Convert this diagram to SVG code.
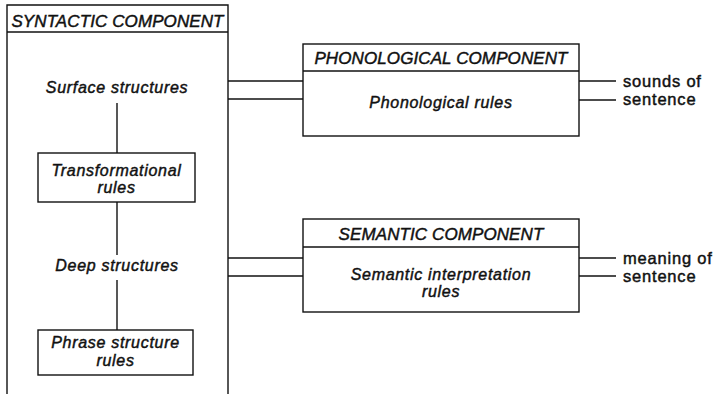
<svg xmlns="http://www.w3.org/2000/svg" width="718" height="394" viewBox="0 0 718 394">
  <style>
    .box { fill: none; stroke: #111; stroke-width: 1.4; }
    .wire { fill: none; stroke: #111; stroke-width: 1.4; }
    text { font-family: "Liberation Sans", Arial, sans-serif; fill: #111; stroke: #111; stroke-width: 0.45; }
    .head { font-style: italic; font-size: 17px; text-anchor: middle; letter-spacing: 0.1px; }
    .lbl { font-style: italic; font-size: 16px; text-anchor: middle; letter-spacing: 0.7px; }
    .out { font-size: 16.5px; letter-spacing: 0.8px; }
  </style>
  <rect width="718" height="394" fill="#fff"/>

  <!-- syntactic component: open-bottomed frame with internal chain -->
  <g id="syntactic">
    <path class="box" d="M7,394 V5 H228 V394"/>
    <line class="box" x1="7" y1="32" x2="228" y2="32"/>
    <text class="head" x="117.5" y="27">SYNTACTIC COMPONENT</text>
  </g>
  <g id="surface">
    <text class="lbl" x="117" y="93">Surface structures</text>
  </g>
  <g id="transformational">
    <rect class="box" x="38" y="153" width="157" height="49"/>
    <text class="lbl" x="116.5" y="176">Transformational</text>
    <text class="lbl" x="116.5" y="193">rules</text>
  </g>
  <g id="deep">
    <text class="lbl" x="117" y="271">Deep structures</text>
  </g>
  <g id="phrase">
    <rect class="box" x="38" y="330" width="155" height="45"/>
    <text class="lbl" x="115.5" y="348">Phrase structure</text>
    <text class="lbl" x="115.5" y="366">rules</text>
  </g>

  <!-- phonological component -->
  <g id="phonological">
    <rect class="box" x="303" y="44" width="276" height="92"/>
    <line class="box" x1="303" y1="71" x2="579" y2="71"/>
    <text class="head" x="441" y="64">PHONOLOGICAL COMPONENT</text>
    <text class="lbl" x="441" y="108">Phonological rules</text>
  </g>

  <!-- semantic component -->
  <g id="semantic">
    <rect class="box" x="303" y="219" width="276" height="93"/>
    <line class="box" x1="303" y1="247" x2="579" y2="247"/>
    <text class="head" x="441" y="240">SEMANTIC COMPONENT</text>
    <text class="lbl" x="441" y="280">Semantic interpretation</text>
    <text class="lbl" x="441" y="297">rules</text>
  </g>

  <!-- outputs -->
  <g id="sounds">
    <text class="out" x="623" y="87">sounds of</text>
    <text class="out" x="623" y="105">sentence</text>
  </g>
  <g id="meaning">
    <text class="out" x="623" y="264">meaning of</text>
    <text class="out" x="623" y="282">sentence</text>
  </g>

  <!-- connectors -->
  <g id="connectors">
    <line class="wire" x1="117" y1="103" x2="117" y2="153"/>
    <line class="wire" x1="117" y1="202" x2="117" y2="255"/>
    <line class="wire" x1="117" y1="280" x2="117" y2="330"/>
    <line class="wire" x1="228" y1="81" x2="303" y2="81"/>
    <line class="wire" x1="228" y1="99" x2="303" y2="99"/>
    <line class="wire" x1="228" y1="258" x2="303" y2="258"/>
    <line class="wire" x1="228" y1="276" x2="303" y2="276"/>
    <line class="wire" x1="579" y1="81" x2="616" y2="81"/>
    <line class="wire" x1="579" y1="100" x2="616" y2="100"/>
    <line class="wire" x1="579" y1="258" x2="616" y2="258"/>
    <line class="wire" x1="579" y1="276" x2="616" y2="276"/>
  </g>
</svg>
